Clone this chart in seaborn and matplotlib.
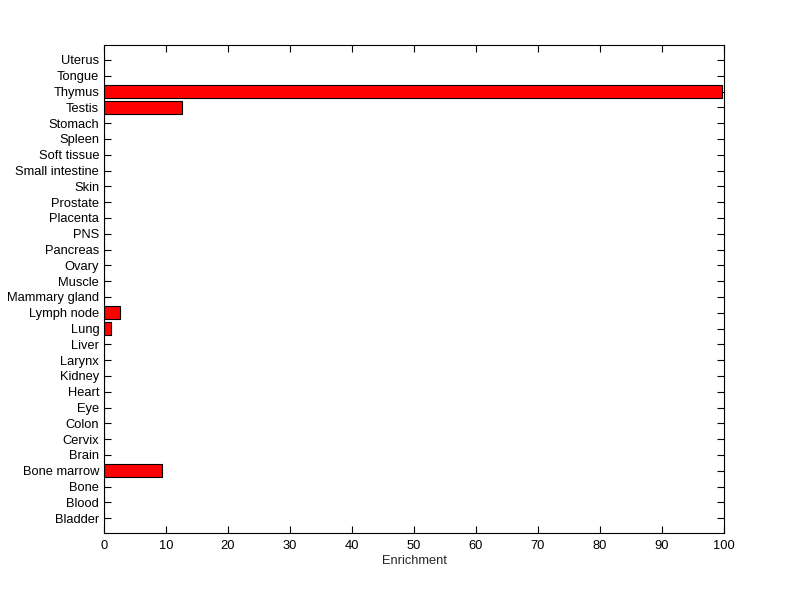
import matplotlib
matplotlib.use("Agg")
import matplotlib.pyplot as plt
import seaborn as sns
import pandas as pd

tissues = ['Uterus', 'Tongue', 'Thymus', 'Testis', 'Stomach', 'Spleen', 'Soft tissue',
           'Small intestine', 'Skin', 'Prostate', 'Placenta', 'PNS', 'Pancreas', 'Ovary',
           'Muscle', 'Mammary gland', 'Lymph node', 'Lung', 'Liver', 'Larynx', 'Kidney',
           'Heart', 'Eye', 'Colon', 'Cervix', 'Brain', 'Bone marrow', 'Bone', 'Blood', 'Bladder']
enrichment = [0, 0, 99.7, 12.5, 0, 0, 0,
              0, 0, 0, 0, 0, 0, 0,
              0, 0, 2.6, 1.2, 0, 0, 0,
              0, 0, 0, 0, 0, 9.3, 0, 0, 0]

df = pd.DataFrame({'tissue': tissues, 'enrichment': enrichment})

sns.set_style("ticks")
plt.rcParams['font.family'] = ['Liberation Sans', 'DejaVu Sans']

fig = plt.figure(figsize=(8, 5.99), dpi=100)
ax = fig.add_axes([0.13, 0.110, 0.775, 0.815])
sns.barplot(data=df, x='enrichment', y='tissue', order=tissues, orient='h',
            color='#ff0000', saturation=1, edgecolor='black', linewidth=0.8,
            width=0.8, ax=ax)

ax.set_xlim(0, 100)
ax.set_ylim(len(tissues) - 0.05, -0.95)
ax.set_xticks(range(0, 101, 10))
ax.set_xlabel('Enrichment', fontsize=9.3, labelpad=2)
ax.set_ylabel('')
ax.tick_params(direction='in', length=5, width=0.8, labelsize=9.3,
               top=True, right=True, colors='black')
ax.tick_params(axis='x', pad=5)
for s in ax.spines.values():
    s.set_visible(True)
    s.set_linewidth(0.8)
    s.set_color('black')

fig.savefig('out.png', dpi=100, facecolor='white')
